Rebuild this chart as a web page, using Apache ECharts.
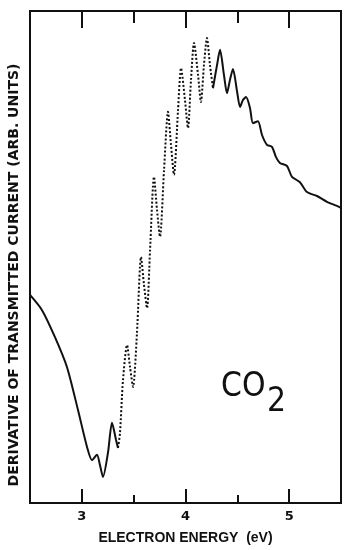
<!DOCTYPE html>
<html>
<head>
<meta charset="utf-8">
<script src="https://cdn.jsdelivr.net/npm/echarts@6/dist/echarts.min.js"></script>
<style>
html,body{margin:0;padding:0;background:#fff;}
#c{width:348px;height:550px;}
</style>
</head>
<body>
<div id="c"></div>
<script>
// Electron energy (eV)
const energy = [2.500,2.616,2.741,2.857,2.963,3.050,3.098,3.146,3.175,3.204,3.252,3.291,3.330,3.349,
  3.368,3.397,3.436,3.465,3.494,3.532,3.571,3.600,3.629,3.658,3.696,3.725,3.754,3.793,3.831,3.860,3.889,
  3.928,3.957,3.995,4.024,4.053,4.082,4.121,4.149,4.178,4.207,4.236,4.265,
  4.304,4.333,4.371,4.400,4.429,4.458,4.497,4.526,4.554,4.584,4.622,4.651,4.699,4.738,4.786,4.834,
  4.873,4.911,4.979,5.027,5.104,5.172,5.268,5.365,5.461,5.500];
// Derivative of transmitted current (arb. units)
const current = [42.3,39.2,33.7,27.6,18.9,11.4,8.7,9.8,7.7,5.3,10.2,16.3,12.8,11.2,
  14.2,25.0,32.1,27.6,23.6,34.6,50.0,44.3,39.6,51.4,66.3,59.6,54.1,67.7,79.5,72.8,66.7,
  79.9,88.4,81.9,76.2,86.0,93.5,87.0,81.5,89.0,94.5,89.0,84.3,
  89.0,92.1,87.0,83.3,86.0,88.2,83.7,80.5,81.9,82.5,80.3,77.2,77.6,74.8,72.8,72.4,
  70.3,69.1,68.5,66.3,65.2,63.2,62.4,61.2,60.4,60.0];
const majorTicks = [3, 4, 5];
const minorTicks = [3.5, 4.5];
const dottedStart = 3.349, dottedEnd = 4.265;

const pairs = energy.map((e, i) => [e, current[i]]);
const solidLow = pairs.filter(p => p[0] <= dottedStart);
const dotted = pairs.filter(p => p[0] >= dottedStart && p[0] <= dottedEnd);
const solidHigh = pairs.filter(p => p[0] >= dottedEnd);

const FONT = '"DejaVu Sans", sans-serif';
const base = {type:'value', min:2.5, max:5.5, splitLine:{show:false}, axisLine:{show:false}};
function ax(pos, ticks, len, labels){
  return Object.assign({}, base, {
    position: pos,
    axisTick:{show:true, inside:true, length:len, customValues:ticks, lineStyle:{color:'#111', width:2}},
    axisLabel: labels ? {show:true, customValues:ticks, color:'#111', fontFamily:FONT, fontWeight:'bold', fontSize:13, margin:7} : {show:false}
  });
}
const xMain = ax('bottom', majorTicks, 14, true);
xMain.name = 'ELECTRON ENERGY  (eV)';
xMain.nameLocation = 'middle';
xMain.nameGap = 28;
xMain.nameTextStyle = {color:'#111', fontFamily:'"Liberation Sans", Arial, sans-serif', fontWeight:'bold', fontSize:14};

const chart = echarts.init(document.getElementById('c'), null, {renderer:'canvas'});
const lineCommon = {type:'line', xAxisIndex:0, yAxisIndex:0, showSymbol:false, smooth:0.25, animation:false};
chart.setOption({
  backgroundColor:'#fff',
  animation:false,
  grid:{left:30, right:7, top:11, bottom:47, show:true, borderColor:'#111', borderWidth:2, backgroundColor:'transparent',
    outerBoundsMode:'none', containLabel:false},
  xAxis:[xMain, ax('bottom', minorTicks, 8, false), ax('top', majorTicks, 17, false), ax('top', minorTicks, 12, false)],
  yAxis:{type:'value', min:0, max:100, axisLine:{show:false}, axisTick:{show:false}, axisLabel:{show:false}, splitLine:{show:false},
    name:'DERIVATIVE OF TRANSMITTED CURRENT (ARB. UNITS)', nameLocation:'middle', nameGap:9,
    nameTextStyle:{color:'#111', fontFamily:FONT, fontWeight:'bold', fontSize:14, padding:[0,36,0,0]}},
  series:[
    Object.assign({}, lineCommon, {data:solidLow, lineStyle:{color:'#111', width:2}}),
    Object.assign({}, lineCommon, {data:dotted, lineStyle:{color:'#111', width:2, type:[2,2]}}),
    Object.assign({}, lineCommon, {data:solidHigh, lineStyle:{color:'#111', width:2}})
  ],
  graphic:[
    {type:'text', left:221, top:370, scaleX:0.88, style:{text:'CO', font:'normal 34px "DejaVu Sans", sans-serif', fill:'#111'}},
    {type:'text', left:267, top:385, scaleX:0.88, style:{text:'2', font:'normal 34px "DejaVu Sans", sans-serif', fill:'#111'}}
  ]
});
</script>
</body>
</html>
